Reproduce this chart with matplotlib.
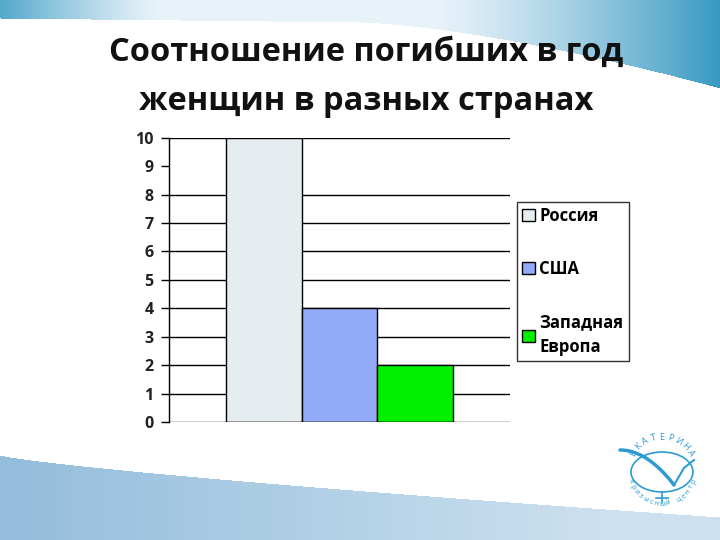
import numpy as np
import matplotlib
matplotlib.use("Agg")
import matplotlib.pyplot as plt
from matplotlib.patches import Ellipse

title = "Соотношение погибших в год\nженщин в разных странах"
series = ["Россия", "США", "Западная\nЕвропа"]
values = [10, 4, 2]
colors = ["#E5EDF1", "#93AAF8", "#00F000"]
yticks = [0, 1, 2, 3, 4, 5, 6, 7, 8, 9, 10]
grid_values = [1, 2, 3, 4, 5, 6, 7, 8, 10]

FONT = "Open Sans"

fig = plt.figure(figsize=(7.2, 5.4), dpi=100)

# background decoration
bg = fig.add_axes([0, 0, 1, 1])
H, W = 540, 720
yy, xx = np.mgrid[0:H, 0:W]
img = np.ones((H, W, 3))
t = xx / W
top_curve = 18 + 8 * t + 62 * np.clip((t - 0.5) / 0.5, 0, 1) ** 1.5
top_mask = yy < top_curve
blue_r = np.array([0.22, 0.60, 0.76])
light = np.array([0.91, 0.95, 0.98])
left_blue = np.array([0.33, 0.66, 0.80])
w_right = np.clip((t - 0.6) / 0.4, 0, 1) ** 1.3
w_left = np.clip((0.22 - t) / 0.22, 0, 1) ** 1.2
topcol = light[None, None, :] * (1 - w_right[..., None] - w_left[..., None]) \
    + blue_r[None, None, :] * w_right[..., None] + left_blue[None, None, :] * w_left[..., None]
img[top_mask] = topcol[top_mask]
bot_curve = 455 + 62 * (t ** 0.8)
bot_mask = yy > bot_curve
bcol_a = np.array([0.58, 0.74, 0.86])
bcol_b = np.array([0.80, 0.88, 0.94])
wb = np.clip(t * 1.2, 0, 1)
botcol = bcol_a[None, None, :] * (1 - wb[..., None]) + bcol_b[None, None, :] * wb[..., None]
img[bot_mask] = botcol[bot_mask]
bg.imshow(img, extent=[0, W, H, 0], aspect="auto")
bg.set_xlim(0, W)
bg.set_ylim(H, 0)
bg.axis("off")

# logo
lc = "#2E9BD0"
cx, cy = 662, 470
bg.add_patch(Ellipse((cx, cy + 2), 62, 40, fill=False, ec=lc, lw=1.2))
sx = np.linspace(-42, 12, 30)
bg.plot(cx + sx, cy - 20 + 0.012 * (sx + 42) ** 2, color=lc, lw=2.5, solid_capstyle="round")
bg.plot([cx + 12, cx + 22, cx + 32], [cy + 15, cy - 2, cy - 10], color=lc, lw=1.5)
bg.plot([cx, cx], [cy + 22, cy + 32], color=lc, lw=1.2)
bg.plot([cx - 6, cx + 6], [cy + 28, cy + 28], color=lc, lw=1.2)
top_word = "ЕКАТЕРИНА"
for i, ch in enumerate(top_word):
    ang = np.deg2rad(150 - i * 15)
    bg.text(cx + 33 * np.cos(ang), cy - 33 * np.sin(ang), ch, color=lc, fontsize=6.5,
            rotation=np.rad2deg(ang) - 90, ha="center", va="center", family=FONT)
bot_word = "кризисный центр"
for i, ch in enumerate(bot_word):
    ang = np.deg2rad(200 + i * 10)
    bg.text(cx + 34 * np.cos(ang), cy - 34 * np.sin(ang), ch, color=lc, fontsize=5.5,
            rotation=np.rad2deg(ang) + 90, ha="center", va="center", family=FONT)

fig.text(0.508, 1 - 77 / 540, title, ha="center", va="center", fontsize=23.5, fontweight="bold",
         fontstretch="normal", family=FONT, color="#111111", linespacing=1.65)

ax = fig.add_axes([169 / 720, 1 - 422 / 540, 341 / 720, (422 - 137.7) / 540])
ax.set_facecolor("none")
x = np.arange(len(values))
bars = ax.bar(x, values, width=1.0, color=colors, edgecolor="black", linewidth=1, zorder=3)
for g in grid_values:
    ax.axhline(g, color="black", lw=1, zorder=1)
ax.axhline(0, color="black", lw=1, zorder=4)
ax.set_xlim(-1.25, 3.25)
ax.set_ylim(0, 10)
ax.set_yticks(yticks)
ax.set_yticklabels([str(v) for v in yticks], fontsize=11.5, fontweight="bold", fontstretch="normal",
                   family=FONT, color="#222222")
ax.tick_params(axis="y", length=6, width=1, pad=5)
ax.set_xticks([])
for s in ["top", "right", "bottom"]:
    ax.spines[s].set_visible(False)
ax.spines["left"].set_linewidth(1)

leg = fig.legend(bars, series, loc="upper left", bbox_to_anchor=(517 / 720, 1 - 202 / 540),
                 borderaxespad=0, frameon=True, fancybox=False, edgecolor="black",
                 handlelength=0.75, handleheight=0.75,
                 handletextpad=0.3, labelspacing=2.1, borderpad=0.3,
                 prop={"family": FONT, "weight": "bold", "stretch": "normal", "size": 12})
for txt in leg.get_texts():
    txt.set_linespacing(1.5)
leg.get_frame().set_linewidth(1)

fig.savefig("out.png", dpi=100)
